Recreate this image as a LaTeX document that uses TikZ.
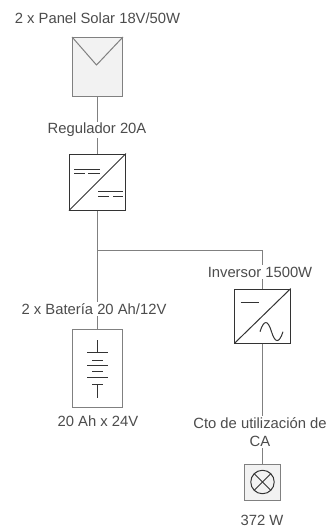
\documentclass[tikz,border=0pt]{standalone}
\usepackage{fontspec}
\setmainfont{Liberation Sans}
\usepackage{tikz}
\definecolor{mygray}{rgb}{0.5,0.5,0.5}
\definecolor{mydark}{rgb}{0.2,0.2,0.2}
\definecolor{myfill}{rgb}{0.95,0.95,0.95}
\tikzset{
  lbl/.style={fill=white,inner sep=1pt,text=black!70,font=\fontsize{11.1}{13.5}\selectfont,align=center},
  wire/.style={mygray,line width=0.75pt},
  sym/.style={mydark,line width=0.75pt},
  box/.style={draw=mydark,line width=0.75pt,inner sep=0pt}
}
\begin{document}
\begin{tikzpicture}[x=0.75pt,y=-0.75pt]
\useasboundingbox (0,0) rectangle (328,529);

\node[box,draw=mygray,fill=myfill,minimum width=37.5pt,minimum height=44.6pt] (panel) at (97.5,67.2) {};
\node[box,minimum width=42pt,minimum height=42pt] (regulador) at (97.5,182) {};
\node[box,draw=mygray,minimum width=36.8pt,minimum height=58.5pt] (bateria) at (97.5,368) {};
\node[box,minimum width=41.6pt,minimum height=40.5pt] (inversor) at (262.5,316) {};
\node[box,draw=mygray,fill=myfill,minimum width=27.4pt,minimum height=27pt] (carga) at (262.5,482) {};
\coordinate (junta) at (97.5,250.5);
\coordinate (codo) at (262.5,250.5);

\draw[wire] (panel) -- (regulador);
\draw[wire] (regulador) -- (bateria);
\draw[wire] (junta) -- (codo) -- (inversor);
\draw[wire] (inversor) -- (carga);

\node[lbl] (tpanel) at (97.5,18) {2 x Panel Solar 18V/50W};
\node[lbl] (tregulador) at (97,130) {Regulador 20A};
\node[lbl] (tbateria) at (94,309) {2 x Batería 20 Ah/12V};
\node[lbl] (tinversor) at (260,272) {Inversor 1500W};
\node[lbl] (tbatnota) at (98,421) {20 Ah x 24V};
\node[lbl] (tcarga) at (260,432) {Cto de utilización de\\CA};
\node[lbl] (tpotencia) at (262,520) {372 W};

% panel
\draw[wire] (panel.north west) -- (96.5,65) -- (panel.north east);

% regulador
\draw[sym] (regulador.south west) -- (regulador.north east);
\draw[sym] (74,169) -- (100,169);
\draw[sym] (74,173.7) -- (85,173.7);
\draw[sym] (88,173.7) -- (100,173.7);
\draw[sym] (98,191.7) -- (123,191.7);
\draw[sym] (98,196.7) -- (109,196.7);
\draw[sym] (113,196.7) -- (123,196.7);

% bateria
\draw[sym] (97.5,340) -- (97.5,352.5);
\draw[sym] (87,352.5) -- (108,352.5);
\draw[sym] (92,360.5) -- (103,360.5);
\draw[sym] (87,365.5) -- (108,365.5);
\draw[sym] (92,371.5) -- (103,371.5);
\draw[sym] (87,377.5) -- (108,377.5);
\draw[sym] (92,384.5) -- (103,384.5);
\draw[sym] (97.5,384.5) -- (97.5,398);

% inversor
\draw[sym] (inversor.south west) -- (inversor.north east);
\draw[sym] (240.7,302) -- (259,302);
\draw[sym] (260,331.7) .. controls (264,319) and (268,320) .. (271.5,331.7) .. controls (275,343) and (279,344) .. (283,331.7);

% carga
\draw[sym] (carga) circle (8.8pt);
\draw[sym] (254.2,473.7) -- (270.8,490.3);
\draw[sym] (254.2,490.3) -- (270.8,473.7);

\end{tikzpicture}
\end{document}
